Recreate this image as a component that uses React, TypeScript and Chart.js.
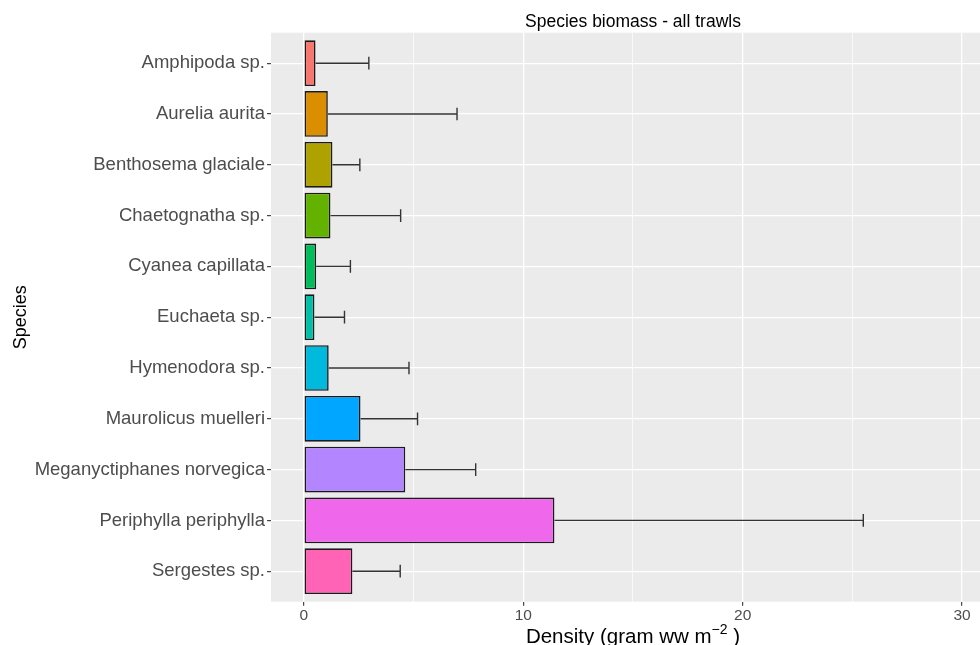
import React, { useEffect, useRef } from 'react';
import { Chart, registerables } from 'chart.js';

Chart.register(...registerables);

const species = [
  'Amphipoda sp.',
  'Aurelia aurita',
  'Benthosema glaciale',
  'Chaetognatha sp.',
  'Cyanea capillata',
  'Euchaeta sp.',
  'Hymenodora sp.',
  'Maurolicus muelleri',
  'Meganyctiphanes norvegica',
  'Periphylla periphylla',
  'Sergestes sp.',
];
const meanDensity = [0.53, 1.09, 1.3, 1.21, 0.56, 0.48, 1.13, 2.58, 4.62, 11.42, 2.21];
const sdDensity = [2.43, 5.89, 1.25, 3.2, 1.56, 1.37, 3.66, 2.6, 3.21, 14.08, 2.18];
const barColors = [
  '#F8766D', '#DB8E00', '#AEA200', '#64B200', '#00BD5C', '#00C1A7',
  '#00BADE', '#00A6FF', '#B385FF', '#EF67EB', '#FF63B6',
];
const xMajorTicks = [0, 10, 20, 30];
const xMinorTicks = [5, 15, 25];
const xMin = -1.5;
const xMaxVisible = 30.82;
const xMaxFull = 31.5;
const chartTitle = 'Species biomass - all trawls';
const yTitle = 'Species';
const xTitleMain = 'Density (gram ww m';
const xTitleSup = '\u22122';
const xTitleEnd = ' )';

const FONT = '"Liberation Sans", Arial, Helvetica, sans-serif';

const ggPlugin = {
  id: 'ggDecor',
  beforeDraw(chart: any) {
    const { ctx, chartArea: a } = chart;
    ctx.save();
    ctx.fillStyle = '#EBEBEB';
    ctx.fillRect(a.left, a.top, a.right - a.left, a.bottom - a.top);
    ctx.restore();
  },
  afterDatasetsDraw(chart: any) {
    const { ctx, chartArea: a } = chart;
    const xs = chart.scales.x;
    const ys = chart.scales.y;
    ctx.save();
    ctx.beginPath();
    ctx.rect(a.left, a.top, a.right - a.left, a.bottom - a.top);
    ctx.clip();
    ctx.strokeStyle = '#333333';
    ctx.lineWidth = 1.4;
    meanDensity.forEach((m, i) => {
      const x0 = xs.getPixelForValue(m);
      const x1 = xs.getPixelForValue(m + sdDensity[i]);
      const yc = ys.getPixelForValue(i);
      const yT = ys.getPixelForValue(i - 0.125);
      const yB = ys.getPixelForValue(i + 0.125);
      ctx.beginPath();
      ctx.moveTo(x0, yc);
      ctx.lineTo(x1, yc);
      ctx.moveTo(x1, yT);
      ctx.lineTo(x1, yB);
      ctx.stroke();
    });
    ctx.restore();
  },
  afterDraw(chart: any) {
    const { ctx, chartArea: a } = chart;
    const xs = chart.scales.x;
    const cx = xs.getPixelForValue((xMin + xMaxFull) / 2);
    ctx.save();
    // title
    ctx.fillStyle = '#000000';
    ctx.font = `17.5px ${FONT}`;
    ctx.textAlign = 'center';
    ctx.textBaseline = 'alphabetic';
    ctx.fillText(chartTitle, cx, 27);
    // y title
    ctx.save();
    ctx.translate(26, (a.top + a.bottom) / 2);
    ctx.rotate(-Math.PI / 2);
    ctx.font = `18px ${FONT}`;
    ctx.textAlign = 'center';
    ctx.textBaseline = 'alphabetic';
    ctx.fillText(yTitle, 0, 0);
    ctx.restore();
    // x title with superscript
    const mainFont = `20.5px ${FONT}`;
    const supFont = `14px ${FONT}`;
    ctx.textAlign = 'left';
    ctx.font = mainFont;
    const w1 = ctx.measureText(xTitleMain).width;
    const w3 = ctx.measureText(xTitleEnd).width;
    ctx.font = supFont;
    const w2 = ctx.measureText(xTitleSup).width;
    const total = w1 + w2 + w3;
    let x = cx - total / 2;
    const base = 643;
    ctx.font = mainFont;
    ctx.fillText(xTitleMain, x, base);
    x += w1;
    ctx.font = supFont;
    ctx.fillText(xTitleSup, x, base - 9);
    x += w2;
    ctx.font = mainFont;
    ctx.fillText(xTitleEnd, x, base);
    ctx.restore();
  },
};

export default function App() {
  const canvasRef = useRef<HTMLCanvasElement | null>(null);

  useEffect(() => {
    const canvas = canvasRef.current;
    if (!canvas) return;
    const data = meanDensity.map((v, i) => ({ x: v, y: i }));
    const chart = new Chart(canvas, {
      type: 'bar',
      data: {
        datasets: [
          {
            data: data as any,
            backgroundColor: barColors,
            borderColor: '#1a1a1a',
            borderWidth: 1.6,
            borderSkipped: false,
            barPercentage: 0.9,
            categoryPercentage: 1,
          },
        ],
      },
      options: {
        indexAxis: 'y',
        responsive: false,
        devicePixelRatio: 1,
        animation: false,
        events: [],
        layout: { padding: { top: 32.7, left: 0, right: 0, bottom: 0 } },
        plugins: {
          legend: { display: false },
          tooltip: { enabled: false },
          title: { display: false },
        },
        scales: {
          x: {
            type: 'linear',
            position: 'bottom',
            min: xMin,
            max: xMaxVisible,
            offset: false,
            afterBuildTicks: (scale: any) => {
              scale.ticks = [...xMajorTicks, ...xMinorTicks]
                .sort((p, q) => p - q)
                .map((v) => ({ value: v }));
            },
            afterFit: (scale: any) => {
              scale.height = 43.3;
            },
            border: { display: false },
            grid: {
              offset: false,
              color: '#FFFFFF',
              lineWidth: (ctx: any) =>
                ctx.tick && xMajorTicks.includes(ctx.tick.value) ? 1.3 : 0.7,
              tickColor: (ctx: any) =>
                ctx.tick && xMajorTicks.includes(ctx.tick.value) ? '#333333' : 'rgba(0,0,0,0)',
              tickWidth: 1.1,
              tickLength: 4,
            },
            ticks: {
              color: '#4D4D4D',
              font: { family: FONT, size: 15.5 },
              padding: 1,
              maxRotation: 0,
              autoSkip: false,
              callback: (value: any) =>
                xMajorTicks.includes(Number(value)) ? String(value) : '',
            },
          },
          y: {
            type: 'linear',
            reverse: true,
            min: -0.6,
            max: species.length - 0.4,
            offset: false,
            afterBuildTicks: (scale: any) => {
              scale.ticks = species.map((_, i) => ({ value: i }));
            },
            afterFit: (scale: any) => {
              scale.width = 271;
            },
            border: { display: false },
            grid: {
              offset: false,
              color: '#FFFFFF',
              lineWidth: 1.3,
              tickColor: '#333333',
              tickWidth: 1.1,
              tickLength: 4,
            },
            ticks: {
              color: '#4D4D4D',
              font: { family: FONT, size: 18.5 },
              padding: 2,
              autoSkip: false,
              callback: (value: any) => species[Number(value)] ?? '',
            },
          },
        },
      },
      plugins: [ggPlugin],
    });
    return () => {
      chart.destroy();
    };
  }, []);

  return (
    <div style={{ position: 'absolute', left: 0, top: 0, width: 980, height: 645, background: '#FFFFFF' }}>
      <canvas ref={canvasRef} width={980} height={645} style={{ display: 'block', width: 980, height: 645 }} />
    </div>
  );
}
